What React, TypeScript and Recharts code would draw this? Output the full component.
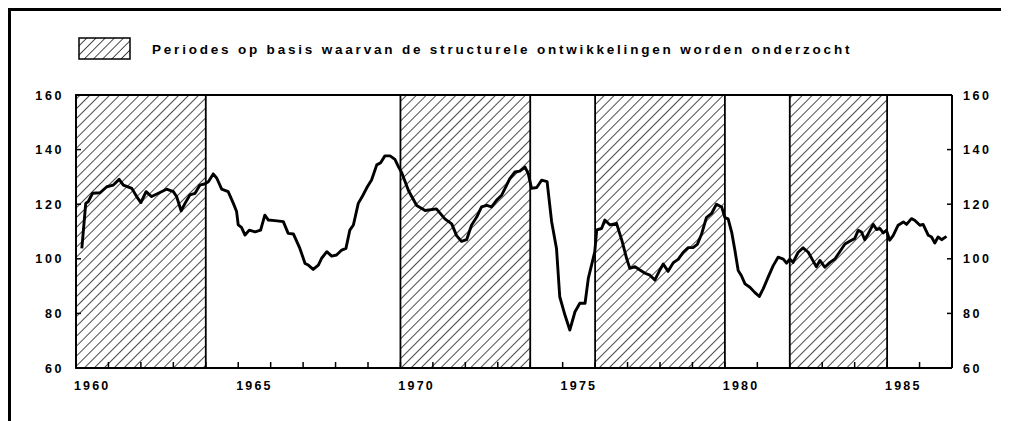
import React from 'react';
import { LineChart, Line, XAxis, YAxis, ReferenceArea, ReferenceLine } from 'recharts';

// time axis (years, fractional) and index value
const years = [
  1960.18, 1960.3, 1960.38, 1960.51, 1960.74, 1960.95, 1961.15, 1961.33, 1961.46, 1961.72,
  1961.87, 1962.0, 1962.16, 1962.33, 1962.54, 1962.79, 1963.0, 1963.1, 1963.24, 1963.36,
  1963.51, 1963.67, 1963.82, 1963.98, 1964.08, 1964.23, 1964.34, 1964.49, 1964.69, 1964.85,
  1964.95, 1965.0, 1965.1, 1965.21, 1965.34, 1965.52, 1965.69, 1965.82, 1965.93, 1966.13,
  1966.39, 1966.54, 1966.7, 1966.9, 1967.06, 1967.16, 1967.31, 1967.47, 1967.57, 1967.73,
  1967.88, 1968.03, 1968.19, 1968.32, 1968.44, 1968.55, 1968.7, 1968.85, 1968.98, 1969.11,
  1969.27, 1969.39, 1969.52, 1969.68, 1969.83, 1969.94, 1970.04, 1970.25, 1970.5, 1970.76,
  1971.11, 1971.37, 1971.58, 1971.73, 1971.88, 1972.04, 1972.19, 1972.35, 1972.5, 1972.66,
  1972.81, 1972.96, 1973.12, 1973.27, 1973.37, 1973.53, 1973.68, 1973.84, 1973.94, 1974.04,
  1974.2, 1974.35, 1974.52, 1974.66, 1974.81, 1974.91, 1975.07, 1975.22, 1975.38, 1975.53,
  1975.69, 1975.79, 1975.89, 1975.99, 1976.05, 1976.2, 1976.3, 1976.46, 1976.66, 1976.82,
  1976.97, 1977.07, 1977.23, 1977.38, 1977.54, 1977.69, 1977.84, 1978.0, 1978.1, 1978.25,
  1978.41, 1978.56, 1978.71, 1978.87, 1979.02, 1979.15, 1979.28, 1979.43, 1979.59, 1979.74,
  1979.9, 1980.0, 1980.1, 1980.21, 1980.31, 1980.41, 1980.51, 1980.62, 1980.77, 1980.92,
  1981.06, 1981.18, 1981.33, 1981.49, 1981.64, 1981.8, 1981.9, 1982.0, 1982.1, 1982.26,
  1982.41, 1982.57, 1982.7, 1982.82, 1982.93, 1983.08, 1983.24, 1983.39, 1983.54, 1983.7,
  1983.9, 1984.0, 1984.11, 1984.21, 1984.31, 1984.42, 1984.57, 1984.68, 1984.78, 1984.88,
  1984.98, 1985.08, 1985.19, 1985.34, 1985.5, 1985.6, 1985.75, 1985.85, 1986.01, 1986.11,
  1986.27, 1986.37, 1986.47, 1986.57, 1986.68, 1986.83,
];

const values = [
  103.8, 120.3, 121.0, 124.0, 124.2, 126.4, 127.0, 129.1, 127.0, 125.8,
  122.8, 120.6, 124.6, 122.8, 124.0, 125.5, 124.6, 122.8, 117.6, 120.3,
  123.4, 124.0, 127.0, 127.5, 128.2, 131.1, 129.5, 125.5, 124.6, 120.3,
  117.3, 112.4, 111.5, 108.7, 110.5, 109.9, 110.5, 116.0, 114.2, 114.0,
  113.6, 109.3, 109.1, 103.8, 98.3, 97.7, 96.1, 97.7, 100.2, 102.6,
  101.0, 101.4, 103.2, 103.8, 110.5, 112.4, 120.3, 123.4, 126.4, 128.9,
  134.4, 135.2, 137.7, 137.7, 136.4, 133.7, 131.5, 124.9, 119.5, 117.7,
  118.3, 114.6, 112.8, 108.5, 106.4, 107.0, 112.3, 115.3, 119.0, 119.6,
  119.0, 121.4, 123.3, 126.9, 129.4, 131.8, 132.1, 133.6, 131.2, 125.8,
  126.1, 128.8, 128.3, 113.6, 103.8, 86.1, 79.4, 73.9, 80.6, 83.7,
  83.7, 92.8, 97.7, 102.6, 110.6, 111.1, 114.2, 112.4, 113.0, 106.9,
  100.2, 96.5, 97.1, 95.9, 94.7, 94.0, 92.2, 96.0, 98.1, 95.4,
  98.6, 99.8, 102.3, 104.1, 104.1, 105.3, 109.0, 115.1, 116.6, 120.0,
  119.0, 115.1, 114.6, 109.7, 103.0, 95.7, 93.8, 90.8, 89.6, 87.7,
  86.2, 89.0, 93.2, 97.5, 100.6, 99.9, 98.4, 99.9, 98.7, 102.4,
  104.0, 102.4, 99.6, 97.1, 99.4, 96.9, 98.7, 99.9, 102.6, 105.4,
  106.8, 107.4, 110.4, 109.8, 107.0, 109.2, 112.6, 110.7, 111.1, 109.5,
  110.4, 106.8, 108.6, 112.3, 113.5, 112.6, 114.7, 114.1, 112.3, 112.6,
  108.6, 108.0, 105.8, 108.0, 107.0, 108.2,
];

const periods = [
  [1960, 1964],
  [1970, 1974],
  [1976, 1980],
  [1982, 1985],
];

const yearTicks = [
  1960, 1961, 1962, 1963, 1964, 1965, 1966, 1967, 1968, 1969, 1970, 1971, 1972, 1973,
  1974, 1975, 1976, 1977, 1978, 1979, 1980, 1981, 1982, 1983, 1984, 1985, 1986, 1987,
];
const labelTicks = [1960.5, 1965.5, 1970.5, 1975.5, 1980.5, 1985.5];
const valueTicks = [60, 80, 100, 120, 140, 160];

const legendText = 'Periodes op basis waarvan de structurele ontwikkelingen worden onderzocht';

const font = '"Liberation Sans", Arial, sans-serif';

const data = years.map((t, i) => ({ t, v: values[i] }));

// small tick marks pointing into the plot
const YearTick = (props: any) => {
  const { x, y } = props;
  return (
    <g>
      <line x1={x} x2={x} y1={y} y2={y - 6} stroke="#000" strokeWidth={1.5} />
    </g>
  );
};

const LeftTick = (props: any) => {
  const { x, y, payload } = props;
  return (
    <g>
      <line x1={x} x2={x + 5} y1={y} y2={y} stroke="#000" strokeWidth={1.5} />
      <text x={x - 12} y={y} dy={4.5} textAnchor="end" fontSize={12.5} fontWeight="bold" letterSpacing={2.6} fontFamily={font} fill="#000">
        {payload.value}
      </text>
    </g>
  );
};

const RightTick = (props: any) => {
  const { x, y, payload } = props;
  return (
    <g>
      <line x1={x} x2={x - 5} y1={y} y2={y} stroke="#000" strokeWidth={1.5} />
      <text x={x + 11} y={y} dy={4.5} textAnchor="start" fontSize={12.5} fontWeight="bold" letterSpacing={2.6} fontFamily={font} fill="#000">
        {payload.value}
      </text>
    </g>
  );
};

function Hatch({ id, gap }: { id: string; gap: number }) {
  return (
    <pattern id={id} width={gap} height={gap} patternUnits="userSpaceOnUse" patternTransform="rotate(45)">
      <line x1={0} y1={0} x2={0} y2={gap} stroke="#000" strokeWidth={1.4} />
    </pattern>
  );
}

export default function App() {
  return (
    <div style={{ position: 'relative', width: 1001, height: 413, background: '#fff', fontFamily: font }}>
      <div style={{ position: 'absolute', left: 0, top: 0, right: 0, bottom: 0, borderTop: '3px solid #000', borderLeft: '3px solid #000' }} />
      <div style={{ position: 'absolute', left: 994, top: 0, width: 3, height: 66, background: '#000' }} />

      <div style={{ position: 'absolute', left: 70, top: 29, display: 'flex', alignItems: 'center' }}>
        <svg width={54} height={24}>
          <defs>
            <Hatch id="legendHatch" gap={6.5} />
          </defs>
          <rect x={1} y={1} width={51} height={21} fill="url(#legendHatch)" stroke="#000" strokeWidth={1.5} />
        </svg>
        <span style={{ marginLeft: 20, fontSize: 13.5, fontWeight: 'bold', letterSpacing: 2.8, color: '#000', whiteSpace: 'nowrap' }}>{legendText}</span>
      </div>

      <div style={{ position: 'absolute', left: 0, top: 0 }}>
        <LineChart width={1001} height={413} data={data} margin={{ top: 87, right: 8, bottom: 22, left: 8 }}>
          <defs>
            <Hatch id="hatch" gap={7} />
          </defs>
          <XAxis
            xAxisId="a"
            dataKey="t"
            type="number"
            domain={[1960, 1987]}
            ticks={yearTicks}
            interval={0}
            allowDataOverflow
            height={1}
            tickSize={0}
            tickMargin={0}
            tickLine={false}
            axisLine={{ stroke: '#000', strokeWidth: 2 }}
            tick={YearTick}
          />
          <XAxis
            xAxisId="b"
            dataKey="t"
            type="number"
            domain={[1960, 1987]}
            ticks={labelTicks}
            interval={0}
            allowDataOverflow
            height={30}
            tickSize={0}
            tickMargin={12}
            tickLine={false}
            axisLine={false}
            tickFormatter={(v: number) => String(Math.floor(v))}
            tick={{ fill: '#000', fontSize: 12.5, fontWeight: 'bold', letterSpacing: 2.2, fontFamily: font }}
          />
          <YAxis
            yAxisId="left"
            orientation="left"
            domain={[60, 160]}
            ticks={valueTicks}
            interval={0}
            allowDataOverflow
            width={60}
            tickSize={0}
            tickMargin={0}
            tickLine={false}
            axisLine={{ stroke: '#000', strokeWidth: 2 }}
            tick={LeftTick}
          />
          <YAxis
            yAxisId="right"
            orientation="right"
            domain={[60, 160]}
            ticks={valueTicks}
            interval={0}
            allowDataOverflow
            width={49}
            tickSize={0}
            tickMargin={0}
            tickLine={false}
            axisLine={{ stroke: '#000', strokeWidth: 2 }}
            tick={RightTick}
          />
          {periods.map(([a, b]) => (
            <ReferenceArea
              key={a}
              xAxisId="a"
              yAxisId="left"
              x1={a}
              x2={b}
              y1={60}
              y2={160}
              fill="url(#hatch)"
              fillOpacity={1}
              stroke="#000"
              strokeWidth={1.8}
            />
          ))}
          <ReferenceLine xAxisId="a" yAxisId="left" y={160} stroke="#000" strokeWidth={2} />
          {/* invisible copy so the label axis and right axis get their scales */}
          <Line
            xAxisId="b"
            yAxisId="right"
            type="linear"
            dataKey="v"
            stroke="none"
            dot={false}
            activeDot={false}
            isAnimationActive={false}
          />
          <Line
            xAxisId="a"
            yAxisId="left"
            type="linear"
            dataKey="v"
            stroke="#000"
            strokeWidth={2.9}
            strokeLinejoin="round"
            dot={false}
            isAnimationActive={false}
          />
        </LineChart>
      </div>
    </div>
  );
}
